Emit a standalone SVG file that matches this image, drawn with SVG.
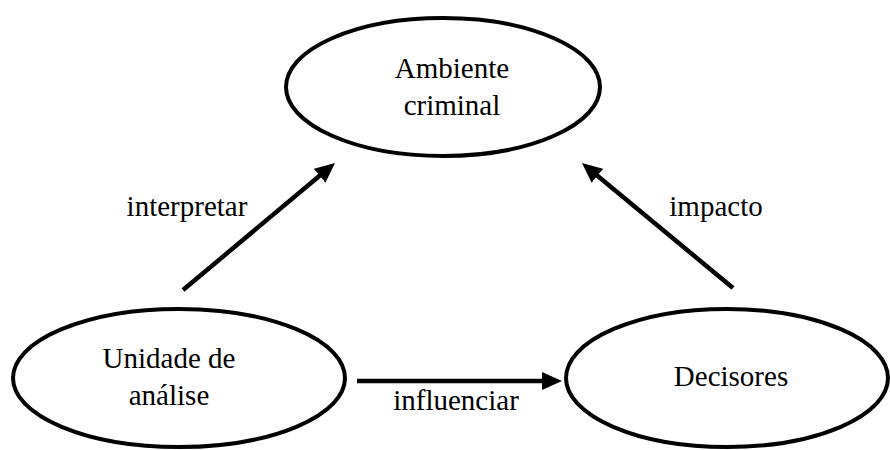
<svg xmlns="http://www.w3.org/2000/svg" width="890" height="450" viewBox="0 0 890 450">
<style>
.node ellipse{fill:#fff;stroke:#000;stroke-width:4}
text{font-family:"Liberation Serif","Times New Roman",serif;font-size:29px;fill:#000;text-anchor:middle}
.conn line{stroke:#000;stroke-width:4.5}
</style>
<defs>
<marker id="ah" markerUnits="userSpaceOnUse" markerWidth="20" markerHeight="18" refX="5" refY="9" orient="auto">
<path d="M0,0 L20,9 L0,18 z" fill="#000"/>
</marker>
</defs>
<rect width="890" height="450" fill="#fff"/>
<g id="ambiente" class="node">
<ellipse cx="443" cy="87" rx="157" ry="69"/>
<text x="452" y="78">Ambiente</text>
<text x="452" y="115">criminal</text>
</g>
<g id="unidade" class="node">
<ellipse cx="179" cy="378" rx="166" ry="69"/>
<text x="169" y="368">Unidade de</text>
<text x="169" y="405">análise</text>
</g>
<g id="decisores" class="node">
<ellipse cx="727" cy="378" rx="161" ry="69"/>
<text x="731" y="386">Decisores</text>
</g>
<g id="connectors" class="conn">
<line x1="183" y1="290" x2="323.5" y2="172.6" marker-end="url(#ah)"/>
<line x1="733" y1="288" x2="593.5" y2="172.6" marker-end="url(#ah)"/>
<line x1="357" y1="381" x2="547" y2="381" marker-end="url(#ah)"/>
<text x="187" y="216">interpretar</text>
<text x="716" y="216">impacto</text>
<text x="456" y="410">influenciar</text>
</g>
</svg>
